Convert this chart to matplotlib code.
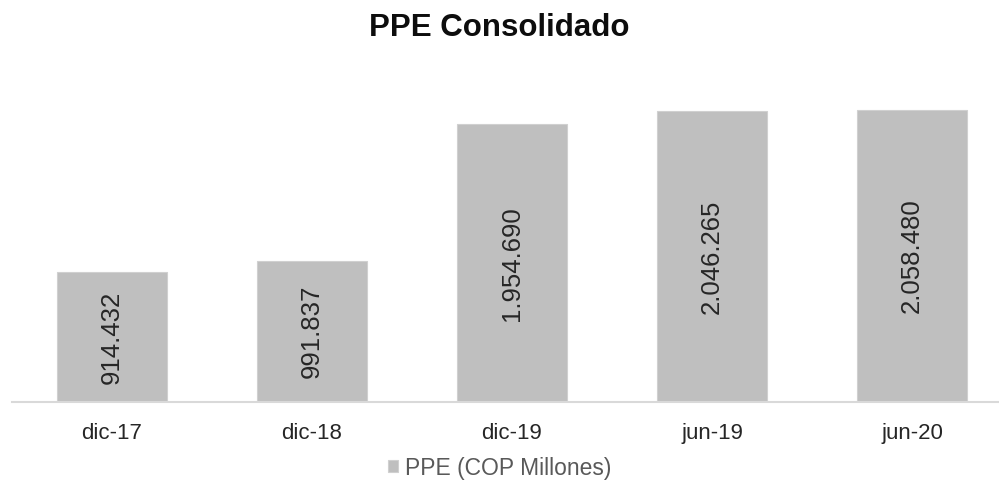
import matplotlib
matplotlib.use('Agg')
import matplotlib.pyplot as plt
from matplotlib import rcParams
rcParams['font.family'] = ['Liberation Sans', 'DejaVu Sans']

# data
periods = ['dic-17', 'dic-18', 'dic-19', 'jun-19', 'jun-20']
ppe = [914432, 991837, 1954690, 2046265, 2058480]
labels = ['914.432', '991.837', '1.954.690', '2.046.265', '2.058.480']
series_name = 'PPE (COP Millones)'

bar_col = '#BFBFBF'

fig = plt.figure(figsize=(9.99, 4.92), dpi=100)
ax = fig.add_axes([12/999, 0.183, 1000/999, 0.7215])

x = range(len(periods))
bars = ax.bar(x, ppe, width=0.55, color=bar_col, edgecolor='#D0D0D0',
              linewidth=0.8, label=series_name)

for xi, v, lab in zip(x, ppe, labels):
    ax.text(xi, v/2, lab, rotation=90, ha='center', va='center',
            fontsize=18.5, color='#262626')

ax.set_xlim(-0.5, 4.5)
ax.set_ylim(0, 2500000)
ax.set_xticks(list(x))
ax.set_xticklabels(periods, fontsize=16, color='#262626')
ax.set_yticks([])
ax.tick_params(axis='x', length=0, pad=15)
for s in ['top', 'right', 'left']:
    ax.spines[s].set_visible(False)
ax.spines['bottom'].set_color('#D9D9D9')
ax.spines['bottom'].set_linewidth(1.5)

fig.text(0.5, 1 - 28/492, 'PPE Consolidado', ha='center', va='center',
         fontsize=22.5, fontweight='bold', color='#0D0D0D')

fig.legend(handles=[bars], labels=[series_name], loc='center',
           bbox_to_anchor=(0.5, 1 - 468/492), frameon=False, fontsize=16.5,
           labelcolor='#595959', handlelength=0.45, handleheight=0.45,
           handletextpad=0.3)

fig.savefig('out.png', dpi=100)
